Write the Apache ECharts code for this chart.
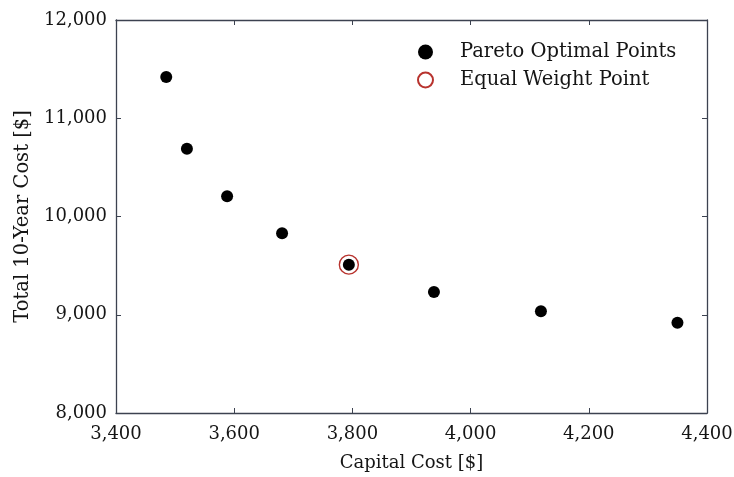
<!DOCTYPE html>
<html>
<head>
<meta charset="utf-8">
<script src="https://cdn.jsdelivr.net/npm/echarts@6/dist/echarts.min.js"></script>
<style>
  html, body { margin: 0; padding: 0; background: #fff; }
  #chart { width: 734px; height: 477px; }
</style>
</head>
<body>
<div id="chart"></div>
<script>
// Pareto front: capital cost vs total 10-year cost
const capitalCost = [3485, 3520, 3588, 3681, 3794, 3938, 4119, 4350];
const totalCost = [11420, 10690, 10206, 9830, 9510, 9231, 9035, 8919];
const equalWeightCapital = [3794];
const equalWeightTotal = [9510];
const xTicks = [3400, 3600, 3800, 4000, 4200, 4400];
const yTicks = [8000, 9000, 10000, 11000, 12000];

const FONT = 'DejaVu Serif';
const AXIS_COLOR = '#3c4250';
const TEXT_COLOR = '#151515';
const fmt = v => v.toLocaleString('en-US');

const paretoData = capitalCost.map((x, i) => [x, totalCost[i]]);
const equalData = equalWeightCapital.map((x, i) => [x, equalWeightTotal[i]]);

const baseAxis = {
  splitLine: { show: false },
  axisLine: { show: true, onZero: false, lineStyle: { color: AXIS_COLOR, width: 1.3 } },
  axisTick: { show: true, inside: true, length: 5, lineStyle: { color: AXIS_COLOR, width: 1 } }
};

const chart = echarts.init(document.getElementById('chart'));
chart.setOption({
  backgroundColor: '#fff',
  animation: false,
  grid: { left: 116, right: 27, top: 20, bottom: 64, outerBoundsMode: 'none', containLabel: false },
  legend: {
    left: 412, top: 37, orient: 'vertical', itemGap: 8,
    itemWidth: 15, itemHeight: 15,
    textStyle: { fontFamily: FONT, fontSize: 19.5, color: TEXT_COLOR, padding: [0, 0, 0, 22] },
    data: ['Pareto Optimal Points', 'Equal Weight Point']
  },
  xAxis: [
    Object.assign({}, baseAxis, {
      type: 'value', min: xTicks[0], max: xTicks[xTicks.length - 1], interval: 200,
      name: 'Capital Cost [$]', nameLocation: 'middle', nameGap: 41,
      nameTextStyle: { fontFamily: FONT, fontSize: 18, color: TEXT_COLOR },
      axisLabel: { fontFamily: FONT, fontSize: 18, color: TEXT_COLOR, margin: 12, formatter: fmt }
    }),
    Object.assign({}, baseAxis, {
      type: 'value', position: 'top', min: xTicks[0], max: xTicks[xTicks.length - 1], interval: 200,
      axisLabel: { show: false }
    })
  ],
  yAxis: [
    Object.assign({}, baseAxis, {
      type: 'value', min: yTicks[0], max: yTicks[yTicks.length - 1], interval: 1000,
      name: 'Total 10-Year Cost [$]', nameLocation: 'middle', nameGap: 83,
      nameTextStyle: { fontFamily: FONT, fontSize: 19.5, color: TEXT_COLOR },
      axisLabel: { fontFamily: FONT, fontSize: 18, color: TEXT_COLOR, margin: 9, formatter: fmt }
    }),
    Object.assign({}, baseAxis, {
      type: 'value', position: 'right', min: yTicks[0], max: yTicks[yTicks.length - 1], interval: 1000,
      axisLabel: { show: false }
    })
  ],
  series: [
    {
      name: 'Pareto Optimal Points', type: 'scatter', data: paretoData,
      symbol: 'circle', symbolSize: 12,
      itemStyle: { color: '#000', opacity: 1 }, z: 3
    },
    {
      name: 'Equal Weight Point', type: 'scatter', data: equalData,
      symbol: 'circle', symbolSize: 19,
      itemStyle: { color: 'rgba(0,0,0,0)', borderColor: '#b8332e', borderWidth: 1.4, opacity: 1 }, z: 2
    }
  ]
});
</script>
</body>
</html>
